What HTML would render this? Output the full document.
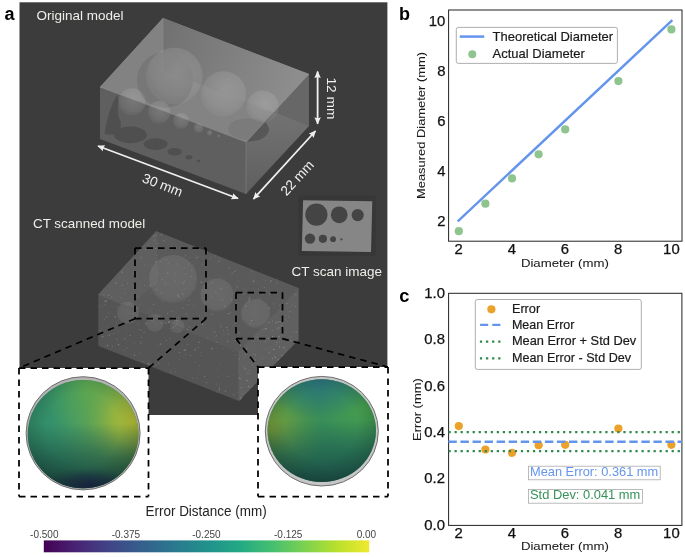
<!DOCTYPE html>
<html><head><meta charset="utf-8">
<style>
html,body{margin:0;padding:0;background:#fff;}
body{width:685px;height:557px;overflow:hidden;}
svg{display:block;font-family:"Liberation Sans",sans-serif;will-change:transform;}
</style></head>
<body>
<svg width="685" height="557" viewBox="0 0 685 557">
<defs>
  <linearGradient id="viridis" x1="0" y1="0" x2="1" y2="0">
    <stop offset="0" stop-color="#440154"/>
    <stop offset="0.1" stop-color="#482475"/>
    <stop offset="0.2" stop-color="#414487"/>
    <stop offset="0.3" stop-color="#355f8d"/>
    <stop offset="0.4" stop-color="#2a788e"/>
    <stop offset="0.5" stop-color="#21918c"/>
    <stop offset="0.6" stop-color="#22a884"/>
    <stop offset="0.7" stop-color="#44bf70"/>
    <stop offset="0.8" stop-color="#7ad151"/>
    <stop offset="0.9" stop-color="#b8e02c"/>
    <stop offset="1" stop-color="#efe930"/>
  </linearGradient>
  <linearGradient id="rightface" gradientUnits="userSpaceOnUse" x1="0" y1="110" x2="0" y2="194">
    <stop offset="0" stop-color="#737373"/>
    <stop offset="1" stop-color="#5f5f5f"/>
  </linearGradient>
  <linearGradient id="backright" gradientUnits="userSpaceOnUse" x1="163" y1="40" x2="300" y2="95">
    <stop offset="0" stop-color="#727272"/>
    <stop offset="1" stop-color="#8f8f8f"/>
  </linearGradient>
  <radialGradient id="sph" cx="0.55" cy="0.4" r="0.55">
    <stop offset="0" stop-color="#fff" stop-opacity="0.16"/>
    <stop offset="0.8" stop-color="#fff" stop-opacity="0.09"/>
    <stop offset="1" stop-color="#fff" stop-opacity="0.05"/>
  </radialGradient>
  <radialGradient id="sphL" cx="0.42" cy="0.4" r="0.7">
    <stop offset="0" stop-color="#36946c"/>
    <stop offset="0.7" stop-color="#318a68"/>
    <stop offset="1" stop-color="#2b7d62"/>
  </radialGradient>
  <radialGradient id="sphLy" cx="0.95" cy="0.38" r="0.75" gradientTransform="translate(0.95,0.38) scale(1,1.15) translate(-0.95,-0.38)">
    <stop offset="0" stop-color="#b2bc34" stop-opacity="1"/>
    <stop offset="0.25" stop-color="#a2b83a" stop-opacity="0.85"/>
    <stop offset="0.55" stop-color="#80b044" stop-opacity="0.45"/>
    <stop offset="1" stop-color="#5aa858" stop-opacity="0"/>
  </radialGradient>
  <radialGradient id="vig" cx="0.5" cy="0.45" r="0.55">
    <stop offset="0.6" stop-color="#000" stop-opacity="0"/>
    <stop offset="1" stop-color="#000" stop-opacity="0.16"/>
  </radialGradient>
  <radialGradient id="sphLg" cx="0.55" cy="0.05" r="0.45">
    <stop offset="0" stop-color="#5aaa4c" stop-opacity="0.75"/>
    <stop offset="1" stop-color="#50a850" stop-opacity="0"/>
  </radialGradient>
  <linearGradient id="sphLb" x1="0" y1="0" x2="0" y2="1">
    <stop offset="0.4" stop-color="#20564a" stop-opacity="0"/>
    <stop offset="0.72" stop-color="#1e5044" stop-opacity="0.6"/>
    <stop offset="1" stop-color="#1a4238" stop-opacity="0.95"/>
  </linearGradient>
  <radialGradient id="sphLd" cx="0.55" cy="0.97" r="0.28" gradientTransform="translate(0.55,0.97) scale(1.5,0.55) translate(-0.55,-0.97)">
    <stop offset="0" stop-color="#1c2648" stop-opacity="0.95"/>
    <stop offset="0.55" stop-color="#1d3248" stop-opacity="0.6"/>
    <stop offset="1" stop-color="#1e3c46" stop-opacity="0"/>
  </radialGradient>
  <radialGradient id="sphR" cx="0.6" cy="0.4" r="0.7">
    <stop offset="0" stop-color="#378e5a"/>
    <stop offset="0.7" stop-color="#32865a"/>
    <stop offset="1" stop-color="#2c7a5a"/>
  </radialGradient>
  <radialGradient id="sphRy" cx="0.03" cy="0.5" r="0.5" gradientTransform="translate(0.03,0.5) scale(1,1.2) translate(-0.03,-0.5)">
    <stop offset="0" stop-color="#86a436" stop-opacity="0.95"/>
    <stop offset="0.45" stop-color="#6ea23e" stop-opacity="0.6"/>
    <stop offset="1" stop-color="#5a9a48" stop-opacity="0"/>
  </radialGradient>
  <radialGradient id="sphRg" cx="0.88" cy="0.3" r="0.42">
    <stop offset="0" stop-color="#4aa24a" stop-opacity="0.8"/>
    <stop offset="1" stop-color="#4aa24a" stop-opacity="0"/>
  </radialGradient>
  <linearGradient id="sphRd" x1="0" y1="0" x2="0" y2="1">
    <stop offset="0.4" stop-color="#1c584c" stop-opacity="0"/>
    <stop offset="0.75" stop-color="#1c584c" stop-opacity="0.65"/>
    <stop offset="1" stop-color="#1a4a44" stop-opacity="0.9"/>
  </linearGradient>
  <radialGradient id="sphRb" cx="0.48" cy="0.0" r="0.35" gradientTransform="translate(0.48,0) scale(1.5,1.1) translate(-0.48,0)">
    <stop offset="0" stop-color="#2a6e80" stop-opacity="0.9"/>
    <stop offset="0.5" stop-color="#2c7878" stop-opacity="0.55"/>
    <stop offset="1" stop-color="#2c7a70" stop-opacity="0"/>
  </radialGradient>
<radialGradient id="ctsph" cx="0.5" cy="0.45" r="0.55">
    <stop offset="0" stop-color="#fff" stop-opacity="0.09"/>
    <stop offset="0.85" stop-color="#fff" stop-opacity="0.075"/>
    <stop offset="1" stop-color="#fff" stop-opacity="0.03"/>
  </radialGradient>
</defs>

<!-- ===== Panel a ===== -->
<text x="4.5" y="19.7" font-size="18" font-weight="bold" fill="#000">a</text>
<rect x="19.5" y="2.3" width="367.9" height="412.7" fill="#3c3c3c"/>

<!-- Original model box -->
<clipPath id="boxclip"><polygon points="100,87 163,18 309,74 309,126 246,194 100,139"/></clipPath>
<clipPath id="topclip"><polygon points="100,87 163,18 309,74 246,142"/></clipPath>
<clipPath id="frontclip"><polygon points="100,87 246,142 246,194 100,139"/></clipPath>
<clipPath id="rightclip"><polygon points="246,142 309,74 309,126 246,194"/></clipPath>
<g id="orig">
  <!-- front face A-D-E-G -->
  <polygon points="100,87 246,142 246,194 100,139" fill="#5f5f5f"/>
  <!-- right face D-C-F-E -->
  <polygon points="246,142 309,74 309,126 246,194" fill="url(#rightface)"/>
  <!-- right face upper wedge (see-through back) -->
  <polygon points="246,142 309,74 309,126 276,113" fill="#676767"/>
  <g clip-path="url(#rightclip)">
    <ellipse cx="249" cy="129.5" rx="20" ry="12" fill="#575757"/>
  </g>
  <!-- top face A-B-C-D -->
  <polygon points="100,87 163,18 309,74 246,142" fill="#838383"/>
  <!-- back-right face seen through top -->
  <polygon points="163,18 309,74 273.4,112.4 163,70" fill="url(#backright)"/>
  <!-- back-left face seen through top -->
  <polygon points="100,87 163,18 163,70 135,100" fill="#828282"/>
  <g clip-path="url(#topclip)">
    <ellipse cx="248" cy="129" rx="20.5" ry="11.5" fill="#7b7b7b" stroke="#8c8c8c" stroke-width="0.6"/>
    <circle cx="165" cy="80" r="28" fill="#747474" opacity="0.8"/>
  </g>
  <g clip-path="url(#frontclip)" fill="#4f4f4f">
    <path d="M117,95 Q108,110 104.5,134 L117,135 Q122,128 120.5,121 Q117,115 118,106 Q119,99 117,95 Z"/>
    <ellipse cx="130.4" cy="134.9" rx="16.4" ry="8.3"/>
    <ellipse cx="155.6" cy="144.1" rx="12" ry="5.9"/>
    <ellipse cx="174.6" cy="151.8" rx="7.2" ry="3.9"/>
    <ellipse cx="188.9" cy="157.3" rx="3.5" ry="2.2"/>
    <ellipse cx="198.7" cy="161" rx="1.8" ry="1.3"/>
  </g>
  <g clip-path="url(#boxclip)" fill="url(#sph)">
    <circle cx="174.3" cy="76" r="28.3"/>
    <circle cx="223.5" cy="93.7" r="22.5"/>
    <circle cx="262.6" cy="106.5" r="16"/>
    <circle cx="132" cy="101.7" r="13.5"/>
    <circle cx="159.2" cy="112.3" r="11.2"/>
    <circle cx="181" cy="121" r="8"/>
    <circle cx="198.4" cy="128" r="4.8"/>
    <circle cx="209.6" cy="132.9" r="2.6"/>
    <circle cx="218.6" cy="136" r="1.5"/>
  </g>
  <!-- edges -->
  <g fill="none" stroke="#8e8e8e" stroke-width="0.8" stroke-opacity="0.6">
    <line x1="163" y1="18" x2="163" y2="70"/>
  </g>
  <polyline points="100,87 246,142 309,74" fill="none" stroke="#909090" stroke-width="0.8" stroke-opacity="0.7"/>
  <line x1="246" y1="142" x2="246" y2="194" stroke="#787878" stroke-width="0.8"/>
</g>

<!-- dimension arrows -->
<defs>
  <marker id="ah" viewBox="0 0 10 10" refX="9" refY="5" markerWidth="4" markerHeight="4" orient="auto-start-reverse" markerUnits="strokeWidth">
    <path d="M0,0.5 L10,5 L0,9.5 L1.5,5 z" fill="#f0f0f0"/>
  </marker>
</defs>
<g stroke="#f0f0f0" stroke-width="1.8" fill="none" marker-start="url(#ah)" marker-end="url(#ah)">
  <line x1="98" y1="146" x2="238" y2="198.5"/>
  <line x1="253.5" y1="199" x2="315.5" y2="131"/>
  <line x1="317.6" y1="71.5" x2="317.6" y2="123.8"/>
</g>
<g fill="#f0f0f0" font-size="13.7">
  <text transform="translate(160.8,189.3) rotate(21.5)" text-anchor="middle">30 mm</text>
  <text transform="translate(300.6,181) rotate(-47.5)" text-anchor="middle">22 mm</text>
  <text transform="translate(326.6,98.4) rotate(90)" text-anchor="middle">12 mm</text>
</g>

<text x="36.5" y="20.2" font-size="13.3" fill="#eeeeea" textLength="87" lengthAdjust="spacingAndGlyphs">Original model</text>
<text x="33" y="227.6" font-size="13.3" fill="#eeeeea" textLength="112.3" lengthAdjust="spacingAndGlyphs">CT scanned model</text>
<text x="291.5" y="275.8" font-size="13.3" fill="#eeeeea" textLength="90.5" lengthAdjust="spacingAndGlyphs">CT scan image</text>

<!-- CT scan image -->
<rect x="298.7" y="195.5" width="77" height="60.2" fill="#373737"/>
<polygon points="303.1,200.2 372.3,201.3 371,252.1 301.8,251.1" fill="#868686"/>
<g fill="#444">
  <circle cx="316.4" cy="214.6" r="11.1"/>
  <circle cx="339.2" cy="214.8" r="8.4"/>
  <circle cx="357.7" cy="215.1" r="6.1"/>
  <circle cx="310" cy="238.6" r="5.2"/>
  <circle cx="322.9" cy="238.8" r="4.1"/>
  <circle cx="333.1" cy="239.2" r="2.9"/>
  <circle cx="341.4" cy="239.3" r="1.1"/>
</g>

<!-- CT scanned model -->
<clipPath id="ctclip"><polygon points="98.3,294.6 156,231 298.6,288 298.6,340 238.8,401 98.3,346"/></clipPath>
<g id="ct">
  <polygon points="98.3,294.6 238.3,351.2 238.8,401 98.3,346" fill="#555555"/>
  <polygon points="238.3,351.2 298.6,288 298.6,340 238.8,401" fill="#606060"/>
  <polygon points="98.3,294.6 156,231 298.6,288 238.3,351.2" fill="#5a5a5a"/>
  <polygon points="98.3,294.6 157,231 158,282 128,307" fill="#5f5f5f"/>
  <g clip-path="url(#ctclip)" fill="url(#ctsph)">
    <circle cx="173" cy="279" r="24"/>
    <circle cx="217" cy="295" r="16.5"/>
    <circle cx="255.6" cy="313.6" r="14.5"/>
    <circle cx="155" cy="323" r="9"/>
    <circle cx="128" cy="313" r="11"/>
    <circle cx="177.4" cy="326.4" r="7"/>
  </g>
  <polyline points="98.3,294.6 238.3,351.2 298.6,288" fill="none" stroke="#606060" stroke-width="0.8"/>
  <line x1="238.3" y1="351.2" x2="238.8" y2="401" stroke="#5f5f5f" stroke-width="0.8"/>
  <g fill="#d8d8d8">
    <circle cx="145.8" cy="323.5" r="0.7" fill-opacity="0.28"/>
    <circle cx="247.0" cy="345.1" r="0.45" fill-opacity="0.22"/>
    <circle cx="241.5" cy="387.6" r="0.7" fill-opacity="0.35"/>
    <circle cx="125.0" cy="293.1" r="0.7" fill-opacity="0.20"/>
    <circle cx="292.1" cy="305.1" r="0.6" fill-opacity="0.24"/>
    <circle cx="265.5" cy="328.6" r="0.7" fill-opacity="0.27"/>
    <circle cx="279.7" cy="346.9" r="0.6" fill-opacity="0.36"/>
    <circle cx="279.8" cy="327.7" r="0.5" fill-opacity="0.28"/>
    <circle cx="195.2" cy="289.5" r="0.5" fill-opacity="0.16"/>
    <circle cx="183.9" cy="301.6" r="0.45" fill-opacity="0.23"/>
    <circle cx="154.1" cy="271.1" r="0.45" fill-opacity="0.17"/>
    <circle cx="202.7" cy="324.2" r="0.7" fill-opacity="0.36"/>
    <circle cx="124.8" cy="338.7" r="0.6" fill-opacity="0.29"/>
    <circle cx="233.9" cy="394.8" r="0.7" fill-opacity="0.21"/>
    <circle cx="218.9" cy="261.2" r="0.6" fill-opacity="0.33"/>
    <circle cx="151.1" cy="364.8" r="0.45" fill-opacity="0.35"/>
    <circle cx="198.5" cy="342.1" r="0.6" fill-opacity="0.19"/>
    <circle cx="185.5" cy="349.7" r="0.6" fill-opacity="0.35"/>
    <circle cx="152.4" cy="364.8" r="0.5" fill-opacity="0.22"/>
    <circle cx="266.1" cy="328.7" r="0.6" fill-opacity="0.32"/>
    <circle cx="227.0" cy="368.1" r="0.5" fill-opacity="0.24"/>
    <circle cx="105.1" cy="301.3" r="0.7" fill-opacity="0.35"/>
    <circle cx="247.9" cy="373.2" r="0.6" fill-opacity="0.26"/>
    <circle cx="122.1" cy="272.6" r="0.5" fill-opacity="0.34"/>
    <circle cx="278.8" cy="329.1" r="0.45" fill-opacity="0.19"/>
    <circle cx="221.0" cy="289.0" r="0.7" fill-opacity="0.32"/>
    <circle cx="122.0" cy="271.7" r="0.5" fill-opacity="0.32"/>
    <circle cx="152.0" cy="320.6" r="0.7" fill-opacity="0.22"/>
    <circle cx="108.0" cy="313.1" r="0.45" fill-opacity="0.26"/>
    <circle cx="196.5" cy="257.7" r="0.7" fill-opacity="0.29"/>
    <circle cx="215.9" cy="292.3" r="0.6" fill-opacity="0.24"/>
    <circle cx="243.3" cy="366.2" r="0.45" fill-opacity="0.23"/>
    <circle cx="219.5" cy="364.0" r="0.45" fill-opacity="0.28"/>
    <circle cx="118.7" cy="330.9" r="0.5" fill-opacity="0.20"/>
    <circle cx="194.9" cy="349.4" r="0.6" fill-opacity="0.32"/>
    <circle cx="200.8" cy="352.6" r="0.45" fill-opacity="0.35"/>
    <circle cx="249.5" cy="297.9" r="0.7" fill-opacity="0.35"/>
    <circle cx="283.7" cy="347.5" r="0.7" fill-opacity="0.34"/>
    <circle cx="248.4" cy="386.8" r="0.7" fill-opacity="0.28"/>
    <circle cx="269.1" cy="322.5" r="0.7" fill-opacity="0.28"/>
    <circle cx="276.8" cy="283.2" r="0.7" fill-opacity="0.19"/>
    <circle cx="279.3" cy="341.9" r="0.45" fill-opacity="0.33"/>
    <circle cx="191.9" cy="270.0" r="0.45" fill-opacity="0.35"/>
    <circle cx="136.1" cy="275.0" r="0.45" fill-opacity="0.34"/>
    <circle cx="265.6" cy="280.6" r="0.6" fill-opacity="0.15"/>
    <circle cx="176.6" cy="323.5" r="0.6" fill-opacity="0.17"/>
    <circle cx="234.4" cy="293.6" r="0.6" fill-opacity="0.17"/>
    <circle cx="244.3" cy="357.2" r="0.5" fill-opacity="0.19"/>
    <circle cx="276.9" cy="342.4" r="0.5" fill-opacity="0.34"/>
    <circle cx="227.6" cy="341.4" r="0.6" fill-opacity="0.29"/>
    <circle cx="190.0" cy="284.1" r="0.45" fill-opacity="0.17"/>
    <circle cx="176.8" cy="248.0" r="0.45" fill-opacity="0.34"/>
    <circle cx="106.5" cy="316.8" r="0.6" fill-opacity="0.34"/>
    <circle cx="288.0" cy="307.2" r="0.45" fill-opacity="0.22"/>
    <circle cx="152.4" cy="247.9" r="0.45" fill-opacity="0.19"/>
    <circle cx="262.0" cy="358.3" r="0.5" fill-opacity="0.33"/>
    <circle cx="258.4" cy="323.6" r="0.5" fill-opacity="0.19"/>
    <circle cx="148.3" cy="363.9" r="0.7" fill-opacity="0.34"/>
    <circle cx="257.3" cy="337.0" r="0.6" fill-opacity="0.28"/>
    <circle cx="199.7" cy="315.8" r="0.6" fill-opacity="0.22"/>
    <circle cx="273.0" cy="349.1" r="0.45" fill-opacity="0.30"/>
    <circle cx="242.7" cy="293.4" r="0.6" fill-opacity="0.28"/>
    <circle cx="126.8" cy="309.2" r="0.5" fill-opacity="0.16"/>
    <circle cx="126.0" cy="334.5" r="0.5" fill-opacity="0.16"/>
    <circle cx="102.5" cy="307.2" r="0.45" fill-opacity="0.20"/>
    <circle cx="176.2" cy="263.4" r="0.45" fill-opacity="0.22"/>
    <circle cx="158.4" cy="273.5" r="0.6" fill-opacity="0.28"/>
    <circle cx="292.8" cy="331.7" r="0.45" fill-opacity="0.29"/>
    <circle cx="136.0" cy="317.7" r="0.7" fill-opacity="0.22"/>
    <circle cx="249.3" cy="386.6" r="0.7" fill-opacity="0.16"/>
    <circle cx="109.3" cy="335.1" r="0.7" fill-opacity="0.34"/>
    <circle cx="245.3" cy="287.7" r="0.45" fill-opacity="0.19"/>
    <circle cx="166.0" cy="283.9" r="0.5" fill-opacity="0.20"/>
    <circle cx="227.6" cy="330.5" r="0.5" fill-opacity="0.21"/>
    <circle cx="218.2" cy="377.0" r="0.6" fill-opacity="0.17"/>
    <circle cx="217.5" cy="369.5" r="0.45" fill-opacity="0.25"/>
    <circle cx="167.6" cy="313.4" r="0.6" fill-opacity="0.24"/>
    <circle cx="228.3" cy="334.0" r="0.6" fill-opacity="0.32"/>
    <circle cx="186.2" cy="273.7" r="0.5" fill-opacity="0.30"/>
    <circle cx="195.3" cy="362.5" r="0.45" fill-opacity="0.21"/>
    <circle cx="153.5" cy="304.5" r="0.5" fill-opacity="0.31"/>
    <circle cx="155.7" cy="248.6" r="0.7" fill-opacity="0.25"/>
    <circle cx="225.5" cy="391.3" r="0.7" fill-opacity="0.25"/>
    <circle cx="103.9" cy="294.5" r="0.6" fill-opacity="0.31"/>
    <circle cx="285.0" cy="319.3" r="0.5" fill-opacity="0.26"/>
    <circle cx="184.9" cy="288.5" r="0.45" fill-opacity="0.25"/>
    <circle cx="243.3" cy="288.7" r="0.45" fill-opacity="0.28"/>
    <circle cx="208.9" cy="278.5" r="0.45" fill-opacity="0.25"/>
    <circle cx="157.0" cy="243.5" r="0.45" fill-opacity="0.23"/>
    <circle cx="285.2" cy="335.1" r="0.45" fill-opacity="0.25"/>
    <circle cx="118.6" cy="344.7" r="0.7" fill-opacity="0.34"/>
    <circle cx="291.0" cy="340.4" r="0.6" fill-opacity="0.19"/>
    <circle cx="175.0" cy="371.8" r="0.6" fill-opacity="0.19"/>
    <circle cx="220.7" cy="325.4" r="0.7" fill-opacity="0.20"/>
    <circle cx="144.2" cy="265.0" r="0.45" fill-opacity="0.31"/>
    <circle cx="266.5" cy="338.3" r="0.45" fill-opacity="0.35"/>
    <circle cx="133.1" cy="313.7" r="0.5" fill-opacity="0.34"/>
    <circle cx="233.6" cy="341.0" r="0.45" fill-opacity="0.19"/>
    <circle cx="203.3" cy="256.8" r="0.45" fill-opacity="0.24"/>
    <circle cx="219.3" cy="389.9" r="0.6" fill-opacity="0.36"/>
    <circle cx="195.5" cy="350.6" r="0.45" fill-opacity="0.31"/>
    <circle cx="204.7" cy="376.2" r="0.7" fill-opacity="0.25"/>
    <circle cx="151.4" cy="265.4" r="0.45" fill-opacity="0.23"/>
    <circle cx="116.6" cy="322.9" r="0.5" fill-opacity="0.28"/>
    <circle cx="253.0" cy="353.9" r="0.6" fill-opacity="0.21"/>
    <circle cx="166.5" cy="340.7" r="0.6" fill-opacity="0.25"/>
    <circle cx="296.3" cy="320.8" r="0.45" fill-opacity="0.16"/>
    <circle cx="241.0" cy="292.5" r="0.6" fill-opacity="0.23"/>
    <circle cx="215.5" cy="255.9" r="0.6" fill-opacity="0.16"/>
    <circle cx="140.0" cy="305.0" r="0.45" fill-opacity="0.26"/>
    <circle cx="283.2" cy="321.8" r="0.5" fill-opacity="0.24"/>
    <circle cx="277.0" cy="279.7" r="0.5" fill-opacity="0.28"/>
    <circle cx="264.1" cy="287.4" r="0.5" fill-opacity="0.34"/>
    <circle cx="138.6" cy="297.6" r="0.45" fill-opacity="0.34"/>
    <circle cx="198.8" cy="374.2" r="0.45" fill-opacity="0.22"/>
    <circle cx="234.9" cy="355.0" r="0.6" fill-opacity="0.23"/>
    <circle cx="133.7" cy="273.6" r="0.6" fill-opacity="0.31"/>
    <circle cx="139.7" cy="282.6" r="0.5" fill-opacity="0.20"/>
    <circle cx="224.3" cy="306.2" r="0.7" fill-opacity="0.25"/>
    <circle cx="275.8" cy="323.1" r="0.6" fill-opacity="0.34"/>
    <circle cx="183.0" cy="293.9" r="0.6" fill-opacity="0.29"/>
    <circle cx="211.1" cy="296.5" r="0.5" fill-opacity="0.22"/>
    <circle cx="177.3" cy="264.4" r="0.6" fill-opacity="0.17"/>
    <circle cx="109.0" cy="313.0" r="0.5" fill-opacity="0.17"/>
    <circle cx="175.8" cy="325.7" r="0.6" fill-opacity="0.16"/>
    <circle cx="193.8" cy="304.8" r="0.5" fill-opacity="0.20"/>
    <circle cx="232.1" cy="273.0" r="0.6" fill-opacity="0.31"/>
    <circle cx="239.4" cy="358.6" r="0.7" fill-opacity="0.22"/>
    <circle cx="184.4" cy="281.2" r="0.7" fill-opacity="0.18"/>
    <circle cx="104.3" cy="304.3" r="0.5" fill-opacity="0.26"/>
    <circle cx="244.2" cy="294.3" r="0.6" fill-opacity="0.19"/>
    <circle cx="219.4" cy="258.4" r="0.45" fill-opacity="0.34"/>
    <circle cx="104.6" cy="319.1" r="0.6" fill-opacity="0.17"/>
    <circle cx="187.5" cy="344.5" r="0.5" fill-opacity="0.24"/>
    <circle cx="141.2" cy="257.8" r="0.7" fill-opacity="0.22"/>
    <circle cx="156.3" cy="235.2" r="0.6" fill-opacity="0.20"/>
    <circle cx="296.2" cy="295.8" r="0.5" fill-opacity="0.26"/>
    <circle cx="183.7" cy="283.4" r="0.7" fill-opacity="0.26"/>
    <circle cx="215.0" cy="337.0" r="0.5" fill-opacity="0.22"/>
    <circle cx="157.3" cy="243.4" r="0.5" fill-opacity="0.31"/>
    <circle cx="102.6" cy="336.7" r="0.7" fill-opacity="0.34"/>
    <circle cx="107.6" cy="345.8" r="0.7" fill-opacity="0.25"/>
    <circle cx="254.5" cy="367.3" r="0.45" fill-opacity="0.23"/>
    <circle cx="234.9" cy="271.4" r="0.7" fill-opacity="0.26"/>
    <circle cx="193.8" cy="265.5" r="0.45" fill-opacity="0.29"/>
    <circle cx="178.8" cy="296.5" r="0.5" fill-opacity="0.34"/>
    <circle cx="188.9" cy="304.3" r="0.6" fill-opacity="0.23"/>
    <circle cx="176.7" cy="320.4" r="0.5" fill-opacity="0.31"/>
    <circle cx="210.5" cy="258.5" r="0.45" fill-opacity="0.35"/>
    <circle cx="217.5" cy="392.0" r="0.5" fill-opacity="0.34"/>
    <circle cx="185.5" cy="255.7" r="0.7" fill-opacity="0.25"/>
    <circle cx="223.9" cy="318.4" r="0.45" fill-opacity="0.28"/>
    <circle cx="166.9" cy="324.9" r="0.45" fill-opacity="0.21"/>
    <circle cx="165.0" cy="282.6" r="0.5" fill-opacity="0.27"/>
    <circle cx="178.1" cy="317.3" r="0.5" fill-opacity="0.35"/>
    <circle cx="249.4" cy="370.4" r="0.6" fill-opacity="0.22"/>
    <circle cx="156.4" cy="289.6" r="0.5" fill-opacity="0.34"/>
    <circle cx="160.5" cy="344.0" r="0.7" fill-opacity="0.30"/>
    <circle cx="257.8" cy="363.4" r="0.45" fill-opacity="0.28"/>
    <circle cx="162.4" cy="333.1" r="0.45" fill-opacity="0.17"/>
    <circle cx="161.6" cy="323.3" r="0.6" fill-opacity="0.26"/>
    <circle cx="161.1" cy="292.7" r="0.5" fill-opacity="0.33"/>
    <circle cx="108.7" cy="295.4" r="0.7" fill-opacity="0.22"/>
    <circle cx="251.4" cy="344.2" r="0.45" fill-opacity="0.21"/>
    <circle cx="140.4" cy="352.7" r="0.5" fill-opacity="0.22"/>
    <circle cx="270.8" cy="350.4" r="0.45" fill-opacity="0.20"/>
    <circle cx="244.5" cy="367.0" r="0.6" fill-opacity="0.17"/>
    <circle cx="250.5" cy="323.6" r="0.7" fill-opacity="0.20"/>
    <circle cx="280.4" cy="322.0" r="0.6" fill-opacity="0.31"/>
    <circle cx="254.1" cy="281.3" r="0.7" fill-opacity="0.31"/>
    <circle cx="184.6" cy="267.8" r="0.6" fill-opacity="0.15"/>
    <circle cx="245.6" cy="305.9" r="0.7" fill-opacity="0.26"/>
    <circle cx="276.8" cy="321.9" r="0.5" fill-opacity="0.33"/>
    <circle cx="241.6" cy="394.1" r="0.6" fill-opacity="0.15"/>
    <circle cx="189.5" cy="327.1" r="0.5" fill-opacity="0.32"/>
    <circle cx="186.3" cy="314.1" r="0.6" fill-opacity="0.31"/>
    <circle cx="193.7" cy="271.9" r="0.45" fill-opacity="0.23"/>
    <circle cx="205.9" cy="290.1" r="0.45" fill-opacity="0.25"/>
    <circle cx="163.7" cy="260.0" r="0.5" fill-opacity="0.25"/>
    <circle cx="200.3" cy="322.5" r="0.5" fill-opacity="0.29"/>
    <circle cx="168.3" cy="364.4" r="0.7" fill-opacity="0.18"/>
    <circle cx="184.2" cy="350.3" r="0.7" fill-opacity="0.32"/>
    <circle cx="285.3" cy="349.8" r="0.6" fill-opacity="0.24"/>
    <circle cx="236.6" cy="303.0" r="0.45" fill-opacity="0.33"/>
    <circle cx="274.7" cy="356.8" r="0.6" fill-opacity="0.35"/>
    <circle cx="175.0" cy="349.0" r="0.5" fill-opacity="0.20"/>
    <circle cx="228.4" cy="313.6" r="0.7" fill-opacity="0.35"/>
    <circle cx="249.0" cy="299.8" r="0.7" fill-opacity="0.31"/>
    <circle cx="264.0" cy="291.6" r="0.7" fill-opacity="0.29"/>
    <circle cx="229.0" cy="267.7" r="0.6" fill-opacity="0.25"/>
    <circle cx="223.3" cy="330.3" r="0.6" fill-opacity="0.17"/>
    <circle cx="175.3" cy="320.0" r="0.7" fill-opacity="0.17"/>
    <circle cx="211.6" cy="313.9" r="0.7" fill-opacity="0.24"/>
    <circle cx="121.3" cy="297.6" r="0.6" fill-opacity="0.22"/>
    <circle cx="278.3" cy="299.1" r="0.5" fill-opacity="0.16"/>
    <circle cx="148.9" cy="362.1" r="0.45" fill-opacity="0.33"/>
    <circle cx="263.9" cy="329.5" r="0.6" fill-opacity="0.33"/>
    <circle cx="169.3" cy="321.7" r="0.7" fill-opacity="0.35"/>
    <circle cx="255.9" cy="301.5" r="0.45" fill-opacity="0.17"/>
    <circle cx="233.3" cy="375.1" r="0.5" fill-opacity="0.17"/>
    <circle cx="198.5" cy="257.1" r="0.7" fill-opacity="0.21"/>
    <circle cx="272.6" cy="336.7" r="0.6" fill-opacity="0.34"/>
    <circle cx="145.5" cy="249.4" r="0.5" fill-opacity="0.26"/>
    <circle cx="273.9" cy="349.6" r="0.7" fill-opacity="0.35"/>
    <circle cx="223.8" cy="333.9" r="0.6" fill-opacity="0.17"/>
    <circle cx="170.2" cy="328.3" r="0.6" fill-opacity="0.22"/>
    <circle cx="240.7" cy="399.0" r="0.7" fill-opacity="0.30"/>
    <circle cx="175.3" cy="273.8" r="0.6" fill-opacity="0.19"/>
    <circle cx="207.8" cy="337.7" r="0.6" fill-opacity="0.17"/>
    <circle cx="116.1" cy="283.1" r="0.6" fill-opacity="0.29"/>
    <circle cx="257.8" cy="369.1" r="0.45" fill-opacity="0.20"/>
    <circle cx="201.2" cy="282.3" r="0.7" fill-opacity="0.32"/>
    <circle cx="247.4" cy="380.5" r="0.7" fill-opacity="0.28"/>
    <circle cx="150.2" cy="309.9" r="0.5" fill-opacity="0.25"/>
    <circle cx="272.3" cy="330.3" r="0.5" fill-opacity="0.30"/>
    <circle cx="156.0" cy="364.9" r="0.5" fill-opacity="0.30"/>
    <circle cx="106.5" cy="300.9" r="0.7" fill-opacity="0.33"/>
    <circle cx="235.3" cy="340.5" r="0.6" fill-opacity="0.34"/>
    <circle cx="246.0" cy="290.0" r="0.6" fill-opacity="0.28"/>
    <circle cx="241.4" cy="397.3" r="0.6" fill-opacity="0.35"/>
    <circle cx="178.0" cy="295.0" r="0.7" fill-opacity="0.34"/>
    <circle cx="147.7" cy="285.9" r="0.45" fill-opacity="0.23"/>
    <circle cx="263.2" cy="294.4" r="0.45" fill-opacity="0.34"/>
    <circle cx="266.3" cy="290.7" r="0.5" fill-opacity="0.25"/>
    <circle cx="159.2" cy="309.9" r="0.45" fill-opacity="0.23"/>
    <circle cx="278.3" cy="326.9" r="0.5" fill-opacity="0.19"/>
    <circle cx="145.6" cy="344.4" r="0.45" fill-opacity="0.20"/>
    <circle cx="154.5" cy="283.5" r="0.6" fill-opacity="0.22"/>
    <circle cx="158.9" cy="363.4" r="0.45" fill-opacity="0.33"/>
    <circle cx="211.9" cy="282.9" r="0.6" fill-opacity="0.32"/>
    <circle cx="134.7" cy="343.8" r="0.45" fill-opacity="0.32"/>
    <circle cx="134.0" cy="306.4" r="0.5" fill-opacity="0.22"/>
    <circle cx="296.2" cy="332.2" r="0.6" fill-opacity="0.34"/>
    <circle cx="150.0" cy="285.6" r="0.7" fill-opacity="0.32"/>
    <circle cx="269.1" cy="308.0" r="0.7" fill-opacity="0.30"/>
    <circle cx="173.7" cy="317.0" r="0.6" fill-opacity="0.18"/>
    <circle cx="256.5" cy="334.3" r="0.45" fill-opacity="0.25"/>
    <circle cx="251.9" cy="271.8" r="0.6" fill-opacity="0.26"/>
    <circle cx="261.4" cy="331.9" r="0.45" fill-opacity="0.31"/>
    <circle cx="198.1" cy="347.3" r="0.6" fill-opacity="0.31"/>
    <circle cx="185.9" cy="305.8" r="0.45" fill-opacity="0.16"/>
    <circle cx="117.1" cy="306.6" r="0.7" fill-opacity="0.17"/>
    <circle cx="154.3" cy="240.0" r="0.5" fill-opacity="0.35"/>
    <circle cx="146.2" cy="265.6" r="0.45" fill-opacity="0.16"/>
    <circle cx="168.2" cy="263.7" r="0.7" fill-opacity="0.20"/>
    <circle cx="264.9" cy="304.5" r="0.45" fill-opacity="0.22"/>
    <circle cx="268.6" cy="347.8" r="0.5" fill-opacity="0.23"/>
    <circle cx="281.8" cy="355.6" r="0.6" fill-opacity="0.25"/>
    <circle cx="273.9" cy="303.9" r="0.7" fill-opacity="0.22"/>
    <circle cx="282.5" cy="355.3" r="0.45" fill-opacity="0.33"/>
    <circle cx="139.1" cy="329.6" r="0.7" fill-opacity="0.20"/>
    <circle cx="259.3" cy="298.7" r="0.5" fill-opacity="0.28"/>
    <circle cx="199.1" cy="365.2" r="0.45" fill-opacity="0.35"/>
    <circle cx="150.9" cy="363.7" r="0.5" fill-opacity="0.26"/>
    <circle cx="238.8" cy="280.4" r="0.45" fill-opacity="0.34"/>
    <circle cx="232.9" cy="351.4" r="0.45" fill-opacity="0.30"/>
    <circle cx="251.4" cy="386.5" r="0.45" fill-opacity="0.28"/>
    <circle cx="240.7" cy="378.7" r="0.7" fill-opacity="0.20"/>
    <circle cx="164.8" cy="337.9" r="0.5" fill-opacity="0.22"/>
    <circle cx="189.7" cy="257.4" r="0.5" fill-opacity="0.23"/>
    <circle cx="287.1" cy="321.1" r="0.45" fill-opacity="0.31"/>
    <circle cx="277.3" cy="328.2" r="0.7" fill-opacity="0.23"/>
    <circle cx="249.9" cy="296.6" r="0.45" fill-opacity="0.23"/>
    <circle cx="191.5" cy="276.6" r="0.6" fill-opacity="0.22"/>
    <circle cx="231.9" cy="299.8" r="0.6" fill-opacity="0.31"/>
    <circle cx="295.2" cy="294.5" r="0.6" fill-opacity="0.32"/>
    <circle cx="197.0" cy="378.3" r="0.5" fill-opacity="0.20"/>
    <circle cx="187.6" cy="329.3" r="0.6" fill-opacity="0.30"/>
    <circle cx="134.5" cy="355.3" r="0.7" fill-opacity="0.32"/>
    <circle cx="239.2" cy="377.9" r="0.6" fill-opacity="0.33"/>
    <circle cx="170.8" cy="372.0" r="0.6" fill-opacity="0.25"/>
    <circle cx="245.1" cy="368.9" r="0.6" fill-opacity="0.36"/>
    <circle cx="269.8" cy="293.7" r="0.6" fill-opacity="0.32"/>
    <circle cx="216.4" cy="335.7" r="0.5" fill-opacity="0.35"/>
    <circle cx="137.8" cy="308.3" r="0.7" fill-opacity="0.21"/>
    <circle cx="219.3" cy="388.0" r="0.5" fill-opacity="0.36"/>
    <circle cx="160.5" cy="261.5" r="0.5" fill-opacity="0.25"/>
    <circle cx="221.4" cy="327.5" r="0.6" fill-opacity="0.23"/>
    <circle cx="105.4" cy="346.0" r="0.45" fill-opacity="0.23"/>
    <circle cx="295.5" cy="306.3" r="0.6" fill-opacity="0.27"/>
    <circle cx="246.7" cy="348.4" r="0.7" fill-opacity="0.25"/>
    <circle cx="212.3" cy="333.6" r="0.45" fill-opacity="0.26"/>
    <circle cx="203.9" cy="283.1" r="0.5" fill-opacity="0.20"/>
    <circle cx="280.9" cy="311.3" r="0.45" fill-opacity="0.27"/>
    <circle cx="135.2" cy="299.7" r="0.6" fill-opacity="0.20"/>
    <circle cx="245.2" cy="354.2" r="0.5" fill-opacity="0.23"/>
    <circle cx="141.5" cy="337.6" r="0.5" fill-opacity="0.30"/>
    <circle cx="288.4" cy="317.0" r="0.5" fill-opacity="0.28"/>
    <circle cx="278.3" cy="359.8" r="0.7" fill-opacity="0.29"/>
    <circle cx="166.6" cy="259.4" r="0.6" fill-opacity="0.23"/>
    <circle cx="269.3" cy="352.7" r="0.6" fill-opacity="0.32"/>
    <circle cx="190.6" cy="355.4" r="0.5" fill-opacity="0.35"/>
    <circle cx="179.5" cy="359.2" r="0.45" fill-opacity="0.26"/>
    <circle cx="144.1" cy="332.4" r="0.7" fill-opacity="0.24"/>
    <circle cx="251.6" cy="320.7" r="0.6" fill-opacity="0.34"/>
    <circle cx="205.0" cy="314.1" r="0.45" fill-opacity="0.33"/>
    <circle cx="265.2" cy="349.2" r="0.6" fill-opacity="0.18"/>
    <circle cx="161.6" cy="234.8" r="0.7" fill-opacity="0.26"/>
    <circle cx="214.5" cy="331.7" r="0.7" fill-opacity="0.29"/>
    <circle cx="116.9" cy="339.0" r="0.6" fill-opacity="0.36"/>
    <circle cx="232.3" cy="325.9" r="0.6" fill-opacity="0.16"/>
    <circle cx="162.3" cy="247.6" r="0.6" fill-opacity="0.34"/>
    <circle cx="173.4" cy="327.0" r="0.5" fill-opacity="0.35"/>
    <circle cx="243.0" cy="393.2" r="0.5" fill-opacity="0.26"/>
    <circle cx="107.4" cy="344.7" r="0.45" fill-opacity="0.29"/>
    <circle cx="186.4" cy="334.1" r="0.5" fill-opacity="0.29"/>
    <circle cx="192.8" cy="378.2" r="0.6" fill-opacity="0.20"/>
    <circle cx="158.7" cy="345.8" r="0.5" fill-opacity="0.23"/>
    <circle cx="156.0" cy="261.6" r="0.7" fill-opacity="0.29"/>
    <circle cx="275.7" cy="316.7" r="0.5" fill-opacity="0.19"/>
    <circle cx="216.2" cy="342.3" r="0.6" fill-opacity="0.32"/>
    <circle cx="116.3" cy="283.5" r="0.6" fill-opacity="0.18"/>
    <circle cx="124.1" cy="266.6" r="0.45" fill-opacity="0.26"/>
    <circle cx="185.9" cy="354.3" r="0.5" fill-opacity="0.33"/>
    <circle cx="272.5" cy="358.5" r="0.7" fill-opacity="0.23"/>
    <circle cx="113.9" cy="333.9" r="0.6" fill-opacity="0.22"/>
    <circle cx="170.7" cy="370.0" r="0.45" fill-opacity="0.19"/>
    <circle cx="275.8" cy="357.4" r="0.7" fill-opacity="0.22"/>
    <circle cx="188.4" cy="264.1" r="0.7" fill-opacity="0.22"/>
    <circle cx="226.7" cy="327.5" r="0.6" fill-opacity="0.34"/>
    <circle cx="202.5" cy="290.3" r="0.45" fill-opacity="0.21"/>
    <circle cx="217.2" cy="348.2" r="0.45" fill-opacity="0.22"/>
    <circle cx="230.3" cy="312.8" r="0.5" fill-opacity="0.30"/>
    <circle cx="212.1" cy="348.7" r="0.7" fill-opacity="0.34"/>
    <circle cx="286.2" cy="332.4" r="0.5" fill-opacity="0.23"/>
    <circle cx="140.8" cy="343.0" r="0.6" fill-opacity="0.35"/>
    <circle cx="238.8" cy="333.0" r="0.7" fill-opacity="0.23"/>
    <circle cx="201.2" cy="355.8" r="0.45" fill-opacity="0.34"/>
    <circle cx="128.1" cy="321.9" r="0.45" fill-opacity="0.19"/>
    <circle cx="252.7" cy="364.5" r="0.5" fill-opacity="0.34"/>
    <circle cx="150.7" cy="292.4" r="0.45" fill-opacity="0.30"/>
    <circle cx="178.0" cy="370.2" r="0.45" fill-opacity="0.26"/>
    <circle cx="202.3" cy="264.6" r="0.45" fill-opacity="0.35"/>
    <circle cx="223.8" cy="348.3" r="0.6" fill-opacity="0.22"/>
    <circle cx="237.2" cy="286.9" r="0.7" fill-opacity="0.32"/>
    <circle cx="237.0" cy="392.8" r="0.45" fill-opacity="0.29"/>
    <circle cx="214.6" cy="338.1" r="0.45" fill-opacity="0.23"/>
    <circle cx="270.9" cy="280.6" r="0.6" fill-opacity="0.34"/>
    <circle cx="291.2" cy="336.9" r="0.45" fill-opacity="0.34"/>
    <circle cx="131.7" cy="321.5" r="0.7" fill-opacity="0.19"/>
    <circle cx="171.2" cy="331.4" r="0.5" fill-opacity="0.22"/>
    <circle cx="217.0" cy="383.9" r="0.5" fill-opacity="0.29"/>
    <circle cx="182.8" cy="308.1" r="0.6" fill-opacity="0.26"/>
    <circle cx="163.8" cy="240.7" r="0.7" fill-opacity="0.24"/>
    <circle cx="206.7" cy="382.5" r="0.5" fill-opacity="0.35"/>
    <circle cx="156.8" cy="255.2" r="0.5" fill-opacity="0.16"/>
    <circle cx="130.0" cy="335.3" r="0.6" fill-opacity="0.32"/>
    <circle cx="153.9" cy="236.1" r="0.7" fill-opacity="0.30"/>
    <circle cx="253.0" cy="280.9" r="0.6" fill-opacity="0.23"/>
    <circle cx="168.5" cy="322.3" r="0.6" fill-opacity="0.29"/>
    <circle cx="254.9" cy="360.0" r="0.6" fill-opacity="0.29"/>
    <circle cx="206.9" cy="252.8" r="0.7" fill-opacity="0.32"/>
    <circle cx="235.7" cy="310.2" r="0.6" fill-opacity="0.29"/>
    <circle cx="188.7" cy="300.4" r="0.7" fill-opacity="0.19"/>
    <circle cx="253.2" cy="340.9" r="0.5" fill-opacity="0.26"/>
    <circle cx="199.3" cy="342.2" r="0.5" fill-opacity="0.35"/>
    <circle cx="287.1" cy="303.6" r="0.5" fill-opacity="0.20"/>
    <circle cx="102.3" cy="334.7" r="0.45" fill-opacity="0.32"/>
    <circle cx="162.4" cy="279.6" r="0.7" fill-opacity="0.20"/>
    <circle cx="138.2" cy="323.8" r="0.6" fill-opacity="0.22"/>
    <circle cx="221.3" cy="277.5" r="0.45" fill-opacity="0.15"/>
    <circle cx="258.9" cy="377.6" r="0.6" fill-opacity="0.32"/>
    <circle cx="156.3" cy="247.9" r="0.45" fill-opacity="0.22"/>
    <circle cx="265.5" cy="341.5" r="0.5" fill-opacity="0.28"/>
    <circle cx="178.1" cy="321.2" r="0.6" fill-opacity="0.30"/>
    <circle cx="141.5" cy="330.1" r="0.6" fill-opacity="0.28"/>
    <circle cx="167.8" cy="273.2" r="0.6" fill-opacity="0.35"/>
    <circle cx="171.7" cy="311.4" r="0.6" fill-opacity="0.18"/>
    <circle cx="143.2" cy="361.5" r="0.45" fill-opacity="0.23"/>
    <circle cx="234.7" cy="323.6" r="0.5" fill-opacity="0.27"/>
    <circle cx="113.9" cy="288.6" r="0.45" fill-opacity="0.23"/>
    <circle cx="100.1" cy="330.7" r="0.5" fill-opacity="0.32"/>
    <circle cx="127.2" cy="348.3" r="0.7" fill-opacity="0.18"/>
    <circle cx="122.3" cy="285.2" r="0.6" fill-opacity="0.29"/>
    <circle cx="279.9" cy="305.2" r="0.7" fill-opacity="0.25"/>
    <circle cx="248.2" cy="301.9" r="0.6" fill-opacity="0.17"/>
    <circle cx="142.2" cy="341.5" r="0.45" fill-opacity="0.18"/>
    <circle cx="282.0" cy="334.8" r="0.6" fill-opacity="0.16"/>
    <circle cx="207.5" cy="252.0" r="0.45" fill-opacity="0.17"/>
    <circle cx="162.3" cy="301.1" r="0.5" fill-opacity="0.32"/>
    <circle cx="227.8" cy="376.4" r="0.7" fill-opacity="0.18"/>
    <circle cx="99.4" cy="306.3" r="0.45" fill-opacity="0.35"/>
    <circle cx="281.3" cy="325.5" r="0.5" fill-opacity="0.31"/>
    <circle cx="279.1" cy="336.5" r="0.7" fill-opacity="0.33"/>
    <circle cx="290.0" cy="344.9" r="0.45" fill-opacity="0.24"/>
    <circle cx="112.6" cy="346.6" r="0.5" fill-opacity="0.27"/>
    <circle cx="142.3" cy="246.5" r="0.45" fill-opacity="0.22"/>
    <circle cx="246.4" cy="380.6" r="0.6" fill-opacity="0.17"/>
    <circle cx="154.4" cy="337.9" r="0.45" fill-opacity="0.19"/>
    <circle cx="134.1" cy="286.8" r="0.5" fill-opacity="0.32"/>
    <circle cx="124.0" cy="350.6" r="0.7" fill-opacity="0.19"/>
    <circle cx="158.5" cy="363.0" r="0.6" fill-opacity="0.28"/>
    <circle cx="270.6" cy="282.0" r="0.6" fill-opacity="0.32"/>
    <circle cx="248.0" cy="362.1" r="0.45" fill-opacity="0.23"/>
    <circle cx="144.3" cy="285.4" r="0.5" fill-opacity="0.27"/>
    <circle cx="272.7" cy="321.0" r="0.5" fill-opacity="0.35"/>
    <circle cx="285.8" cy="315.6" r="0.45" fill-opacity="0.32"/>
    <circle cx="165.6" cy="322.9" r="0.7" fill-opacity="0.31"/>
    <circle cx="222.1" cy="299.8" r="0.7" fill-opacity="0.18"/>
    <circle cx="286.9" cy="303.5" r="0.6" fill-opacity="0.19"/>
    <circle cx="175.5" cy="280.9" r="0.45" fill-opacity="0.34"/>
    <circle cx="261.8" cy="374.6" r="0.5" fill-opacity="0.16"/>
    <circle cx="111.8" cy="297.4" r="0.6" fill-opacity="0.21"/>
    <circle cx="268.6" cy="338.6" r="0.7" fill-opacity="0.31"/>
    <circle cx="240.6" cy="345.4" r="0.5" fill-opacity="0.30"/>
    <circle cx="276.0" cy="344.8" r="0.5" fill-opacity="0.18"/>
    <circle cx="169.8" cy="338.7" r="0.45" fill-opacity="0.35"/>
    <circle cx="237.2" cy="338.1" r="0.5" fill-opacity="0.16"/>
    <circle cx="127.4" cy="283.3" r="0.6" fill-opacity="0.22"/>
    <circle cx="174.8" cy="368.3" r="0.6" fill-opacity="0.15"/>
    <circle cx="249.0" cy="382.6" r="0.45" fill-opacity="0.15"/>
    <circle cx="290.8" cy="340.7" r="0.45" fill-opacity="0.16"/>
    <circle cx="278.7" cy="321.8" r="0.7" fill-opacity="0.32"/>
    <circle cx="115.1" cy="316.9" r="0.7" fill-opacity="0.34"/>
    <circle cx="258.6" cy="288.7" r="0.5" fill-opacity="0.30"/>
    <circle cx="179.5" cy="352.4" r="0.6" fill-opacity="0.28"/>
    <circle cx="171.1" cy="246.7" r="0.5" fill-opacity="0.31"/>
    <circle cx="278.8" cy="329.5" r="0.5" fill-opacity="0.16"/>
    <circle cx="255.4" cy="354.8" r="0.6" fill-opacity="0.33"/>
    <circle cx="290.1" cy="311.3" r="0.6" fill-opacity="0.30"/>
  </g>
</g>

<!-- inset boxes -->
<rect x="19" y="368" width="129.5" height="128.5" fill="#fff"/>
<rect x="258" y="367" width="130" height="129.5" fill="#fff"/>

<!-- left sphere -->
<ellipse cx="83.1" cy="433.3" rx="57" ry="56.6" fill="#b4b4b4" stroke="#6e6e6e" stroke-width="1"/>
<g transform="translate(83.1,434.1)">
<ellipse rx="55.4" ry="54.2" fill="url(#sphL)"/>
<ellipse rx="55.4" ry="54.2" fill="url(#sphLg)"/>
<ellipse rx="55.4" ry="54.2" fill="url(#sphLy)"/>
<ellipse rx="55.4" ry="54.2" fill="url(#sphLb)"/>
<ellipse rx="55.4" ry="54.2" fill="url(#sphLd)"/>
<ellipse rx="55.4" ry="54.2" fill="url(#vig)"/>
</g>

<!-- right sphere -->
<ellipse cx="321.8" cy="431.2" rx="56.5" ry="54.8" fill="#c6c6c6" stroke="#6e6e6e" stroke-width="1"/>
<g transform="translate(321.8,430.6)">
<ellipse rx="54.2" ry="51.4" fill="url(#sphR)"/>
<ellipse rx="54.2" ry="51.4" fill="url(#sphRg)"/>
<ellipse rx="54.2" ry="51.4" fill="url(#sphRy)"/>
<ellipse rx="54.2" ry="51.4" fill="url(#sphRd)"/>
<ellipse rx="54.2" ry="51.4" fill="url(#sphRb)"/>
<ellipse rx="54.2" ry="51.4" fill="url(#vig)"/>
</g>

<!-- dashed lines -->
<g fill="none" stroke="#000" stroke-width="1.75" stroke-dasharray="6.5,5">
  <path d="M19.0,368.0 H148.5"/>
  <path d="M148.5,368.0 V496.5"/>
  <path d="M19.0,496.5 H148.5"/>
  <path d="M19.0,368.0 V496.5"/>
  <path d="M258.0,367.0 H388.0"/>
  <path d="M388.0,367.0 V496.5"/>
  <path d="M258.0,496.5 H388.0"/>
  <path d="M258.0,367.0 V496.5"/>
  <path d="M135.0,248.0 H206.0"/>
  <path d="M206.0,248.0 V318.7"/>
  <path d="M135.0,318.7 H206.0"/>
  <path d="M135.0,248.0 V318.7"/>
  <path d="M236.0,292.6 H282.5"/>
  <path d="M282.5,292.6 V338.6"/>
  <path d="M236.0,338.6 H282.5"/>
  <path d="M236.0,292.6 V338.6"/>
  <line x1="135" y1="318.7" x2="19" y2="368"/>
  <line x1="206" y1="318.7" x2="148.5" y2="368"/>
  <line x1="236" y1="338.6" x2="258" y2="367"/>
  <line x1="282.5" y1="338.6" x2="388" y2="367"/>
</g>

<!-- colorbar -->
<text x="206.1" y="515.5" font-size="14" fill="#222" text-anchor="middle" textLength="121.3" lengthAdjust="spacingAndGlyphs">Error Distance (mm)</text>
<g font-size="10" fill="#444" text-anchor="middle">
  <text x="44.3" y="537.7">-0.500</text>
  <text x="125.9" y="537.7">-0.375</text>
  <text x="206.4" y="537.7">-0.250</text>
  <text x="288.2" y="537.7">-0.125</text>
  <text x="366.4" y="537.7">0.00</text>
</g>
<rect x="43.8" y="540.4" width="325.4" height="11.9" fill="url(#viridis)"/>

<!-- ===== Panel b ===== -->
<text x="398.9" y="19.7" font-size="18" font-weight="bold" fill="#000">b</text>
<rect x="448.6" y="10" width="233.4" height="231.2" fill="#fff" stroke="#222" stroke-width="1"/>
<g font-size="13.8" fill="#111" stroke="#111" stroke-width="0.25" text-anchor="end">
  <text x="445.3" y="25.6" textLength="16.54" lengthAdjust="spacingAndGlyphs">10</text>
  <text x="445.5" y="75.8" textLength="8.27" lengthAdjust="spacingAndGlyphs">8</text>
  <text x="445.5" y="125.8" textLength="8.27" lengthAdjust="spacingAndGlyphs">6</text>
  <text x="445.5" y="175.7" textLength="8.27" lengthAdjust="spacingAndGlyphs">4</text>
  <text x="445.5" y="225.7" textLength="8.27" lengthAdjust="spacingAndGlyphs">2</text>
</g>
<g font-size="13.8" fill="#111" stroke="#111" stroke-width="0.25" text-anchor="middle">
  <text x="458.6" y="254.4" textLength="8.27" lengthAdjust="spacingAndGlyphs">2</text>
  <text x="511.8" y="254.4" textLength="8.27" lengthAdjust="spacingAndGlyphs">4</text>
  <text x="565" y="254.4" textLength="8.27" lengthAdjust="spacingAndGlyphs">6</text>
  <text x="618.2" y="254.4" textLength="8.27" lengthAdjust="spacingAndGlyphs">8</text>
  <text x="671.4" y="254.4" textLength="16.54" lengthAdjust="spacingAndGlyphs">10</text>
</g>
<text x="564.9" y="266.9" font-size="10.6" fill="#1a1a1a" stroke="#1a1a1a" stroke-width="0.05" text-anchor="middle" textLength="88" lengthAdjust="spacingAndGlyphs">Diameter (mm)</text>
<text transform="translate(425,125.5) rotate(-90)" font-size="10.6" fill="#1a1a1a" stroke="#1a1a1a" stroke-width="0.05" text-anchor="middle" textLength="147" lengthAdjust="spacingAndGlyphs">Measured Diameter (mm)</text>
<line x1="458.6" y1="220.6" x2="671.4" y2="20.9" stroke="#6495ed" stroke-width="2.5" stroke-linecap="square"/>
<g fill="#8fc48f">
  <circle cx="458.8" cy="231.2" r="4.1"/>
  <circle cx="485.4" cy="203.7" r="4.1"/>
  <circle cx="512" cy="178.4" r="4.1"/>
  <circle cx="538.6" cy="154.3" r="4.1"/>
  <circle cx="565.2" cy="129.4" r="4.1"/>
  <circle cx="618.4" cy="81.1" r="4.1"/>
  <circle cx="671.4" cy="29.4" r="4.1"/>
</g>
<rect x="456.3" y="27.4" width="161.1" height="36" rx="2" fill="#fff" fill-opacity="0.8" stroke="#999" stroke-width="0.8"/>
<line x1="461" y1="36.6" x2="483" y2="36.6" stroke="#6495ed" stroke-width="2.5" stroke-linecap="square"/>
<circle cx="472.3" cy="54.2" r="4" fill="#8fc48f"/>
<g font-size="12.9" fill="#1a1a1a" stroke="#1a1a1a" stroke-width="0.2">
  <text x="492.6" y="41" textLength="120.5" lengthAdjust="spacingAndGlyphs">Theoretical Diameter</text>
  <text x="492.6" y="57.6" textLength="92.3" lengthAdjust="spacingAndGlyphs">Actual Diameter</text>
</g>

<!-- ===== Panel c ===== -->
<text x="399.3" y="302.2" font-size="18.3" font-weight="bold" fill="#000">c</text>
<rect x="448.6" y="293.3" width="233.3" height="232.1" fill="#fff" stroke="#222" stroke-width="1"/>
<g font-size="13.8" fill="#111" stroke="#111" stroke-width="0.25" text-anchor="end">
  <text x="445" y="298.1" textLength="20.67" lengthAdjust="spacingAndGlyphs">1.0</text>
  <text x="445" y="344.4" textLength="20.67" lengthAdjust="spacingAndGlyphs">0.8</text>
  <text x="445" y="390.7" textLength="20.67" lengthAdjust="spacingAndGlyphs">0.6</text>
  <text x="445" y="437.1" textLength="20.67" lengthAdjust="spacingAndGlyphs">0.4</text>
  <text x="445" y="483.4" textLength="20.67" lengthAdjust="spacingAndGlyphs">0.2</text>
  <text x="445" y="529.7" textLength="20.67" lengthAdjust="spacingAndGlyphs">0.0</text>
</g>
<g font-size="13.8" fill="#111" stroke="#111" stroke-width="0.25" text-anchor="middle">
  <text x="458.6" y="537.9" textLength="8.27" lengthAdjust="spacingAndGlyphs">2</text>
  <text x="511.8" y="537.9" textLength="8.27" lengthAdjust="spacingAndGlyphs">4</text>
  <text x="565" y="537.9" textLength="8.27" lengthAdjust="spacingAndGlyphs">6</text>
  <text x="618.2" y="537.9" textLength="8.27" lengthAdjust="spacingAndGlyphs">8</text>
  <text x="671.4" y="537.9" textLength="16.54" lengthAdjust="spacingAndGlyphs">10</text>
</g>
<text x="564.9" y="550.2" font-size="10.6" fill="#1a1a1a" stroke="#1a1a1a" stroke-width="0.05" text-anchor="middle" textLength="88" lengthAdjust="spacingAndGlyphs">Diameter (mm)</text>
<text transform="translate(420.7,409.5) rotate(-90)" font-size="10.6" fill="#1a1a1a" stroke="#1a1a1a" stroke-width="0.05" text-anchor="middle" textLength="62.8" lengthAdjust="spacingAndGlyphs">Error (mm)</text>
<g fill="#eba22a">
  <circle cx="458.8" cy="426.1" r="4.1"/>
  <circle cx="485.4" cy="449.5" r="4.1"/>
  <circle cx="512" cy="452.8" r="4.1"/>
  <circle cx="538.6" cy="445.2" r="4.1"/>
  <circle cx="565.2" cy="444.8" r="4.1"/>
  <circle cx="618.4" cy="428.5" r="4.1"/>
  <circle cx="671.4" cy="444.8" r="4.1"/>
</g>
<line x1="448.5" y1="432.1" x2="682" y2="432.1" stroke="#2e8b4c" stroke-width="2.2" stroke-dasharray="2.25,3.78"/>
<line x1="448.5" y1="451.1" x2="682" y2="451.1" stroke="#2e8b4c" stroke-width="2.2" stroke-dasharray="2.25,3.78"/>
<line x1="448.4" y1="441.7" x2="682" y2="441.7" stroke="#6495ed" stroke-width="2.5" stroke-dasharray="8.4,3.66"/>

<rect x="475.3" y="299.5" width="166" height="69.9" rx="2" fill="#fff" fill-opacity="0.8" stroke="#999" stroke-width="0.8"/>
<circle cx="491.4" cy="309.3" r="4.1" fill="#eba22a"/>
<line x1="480.1" y1="324.8" x2="500.7" y2="324.8" stroke="#6495ed" stroke-width="2.3" stroke-dasharray="8.1,4.1"/>
<line x1="479.9" y1="341.7" x2="500.7" y2="341.7" stroke="#2e8b4c" stroke-width="2.2" stroke-dasharray="2.25,3.85"/>
<line x1="479.9" y1="358.3" x2="500.7" y2="358.3" stroke="#2e8b4c" stroke-width="2.2" stroke-dasharray="2.25,3.85"/>
<g font-size="12.9" fill="#1a1a1a" stroke="#1a1a1a" stroke-width="0.2">
  <text x="511.9" y="312.7" textLength="28.3" lengthAdjust="spacingAndGlyphs">Error</text>
  <text x="511.9" y="329" textLength="62.6" lengthAdjust="spacingAndGlyphs">Mean Error</text>
  <text x="511.9" y="345.4" textLength="124.3" lengthAdjust="spacingAndGlyphs">Mean Error + Std Dev</text>
  <text x="511.9" y="361.7" textLength="119.2" lengthAdjust="spacingAndGlyphs">Mean Error - Std Dev</text>
</g>
<rect x="528.4" y="466.2" width="131.8" height="13.6" fill="#fff" stroke="#aaa" stroke-width="0.8"/>
<text x="530" y="476.3" font-size="12.6" fill="#6495ed" textLength="128.2" lengthAdjust="spacingAndGlyphs">Mean Error: 0.361 mm</text>
<rect x="528.4" y="489.4" width="114" height="13.8" fill="#fff" stroke="#aaa" stroke-width="0.8"/>
<text x="530" y="499.4" font-size="12.6" fill="#359259" textLength="110.3" lengthAdjust="spacingAndGlyphs">Std Dev: 0.041 mm</text>

</svg>
</body></html>
